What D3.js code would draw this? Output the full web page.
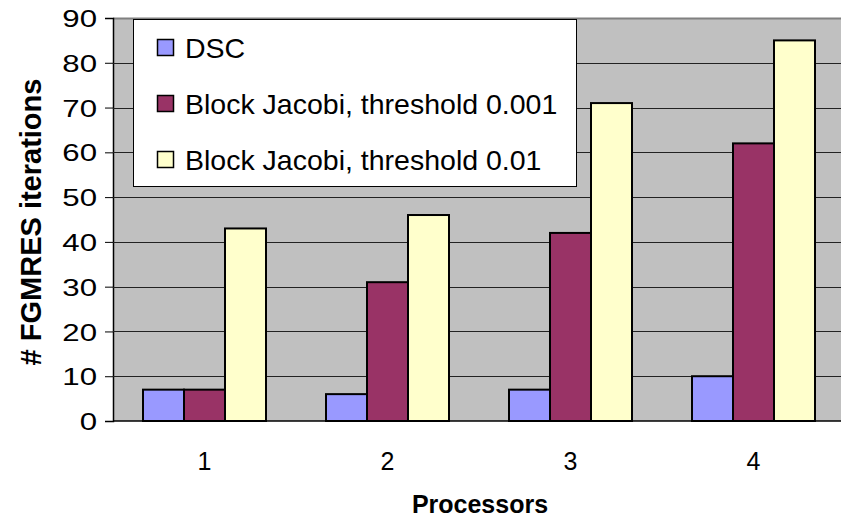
<!DOCTYPE html>
<html><head><meta charset="utf-8">
<script src="https://cdn.jsdelivr.net/npm/d3@7"></script>
<style>html,body{margin:0;padding:0;background:#fff;}svg{display:block;font-family:"Liberation Sans",Arial,sans-serif;}</style>
</head><body>
<svg id="c" width="841" height="519"></svg>
<script>
const categories = ["1","2","3","4"];
const seriesNames = ["DSC","Block Jacobi, threshold 0.001","Block Jacobi, threshold 0.01"];
const dsc = [7,6,7,10];
const bj001 = [7,31,42,62];
const bj01 = [43,46,71,85];
const yTicks = [0,10,20,30,40,50,60,70,80,90];
const colors = ["#9999FF","#993366","#FFFFCC"];
const series = [dsc,bj001,bj01];

const svg = d3.select("#c");
const L=113, T=18, R=845, B=421;
const x = d3.scaleBand().domain(categories).range([L,R]).paddingInner(0).paddingOuter(0);
const y = d3.scaleLinear().domain([0,90]).range([B,T]);
const barW = x.bandwidth()*41/183;
const gap = (x.bandwidth()-3*barW)/2;

svg.append("rect").attr("x",L).attr("y",T).attr("width",R-L).attr("height",B-T).attr("fill","#C0C0C0");
svg.append("line").attr("x1",L).attr("x2",R).attr("y1",T+0.5).attr("y2",T+0.5).attr("stroke","#808080").attr("stroke-width",2);

const yAxis = d3.axisLeft(y).tickValues(yTicks).tickSize(8).tickPadding(8);
const gy = svg.append("g").attr("transform",`translate(${L},0)`).call(yAxis);
gy.select(".domain").attr("stroke","#000").attr("stroke-width",1.5);
gy.selectAll(".tick line").attr("stroke","#000");
gy.selectAll("text").attr("font-size",24).attr("fill","#000").attr("font-family","Liberation Sans, Arial, sans-serif")
  .attr("x",0).attr("dy","0.36em").attr("transform","translate(-16,0) scale(1.3,1)");

svg.append("g").selectAll("line").data(yTicks.filter(v=>v>0&&v<90)).join("line")
  .attr("x1",L).attr("x2",R).attr("y1",d=>Math.round(y(d))+0.5).attr("y2",d=>Math.round(y(d))+0.5)
  .attr("stroke","#222").attr("stroke-width",1);

series.forEach((s,i)=>{
  svg.append("g").selectAll("rect").data(s).join("rect")
    .attr("x",(d,j)=>x(categories[j])+gap+i*barW)
    .attr("y",d=>y(d)).attr("width",barW).attr("height",d=>B-y(d))
    .attr("fill",colors[i]).attr("stroke","#000").attr("stroke-width",2);
});
svg.append("line").attr("x1",L).attr("x2",R).attr("y1",B).attr("y2",B).attr("stroke","#000").attr("stroke-width",1.5);

const xAxis = d3.axisBottom(x).tickSize(0).tickPadding(31);
const gx = svg.append("g").attr("transform",`translate(0,${B})`).call(xAxis);
gx.select(".domain").remove();
gx.selectAll("text").attr("font-size",25).attr("fill","#000").attr("font-family","Liberation Sans, Arial, sans-serif");

svg.append("text").attr("x",480).attr("y",513).attr("text-anchor","middle")
  .attr("font-size",25).attr("font-weight","bold").text("Processors");
svg.append("text").attr("transform","translate(41,222) rotate(-90)").attr("text-anchor","middle")
  .attr("font-size",29).attr("font-weight","bold").text("# FGMRES iterations");

const lg = svg.append("g");
lg.append("rect").attr("x",133.5).attr("y",19.5).attr("width",443).attr("height",167).attr("fill","#fff").attr("stroke","#000").attr("stroke-width",1);
seriesNames.forEach((n,i)=>{
  const cy = 48 + i*56;
  lg.append("rect").attr("x",157.5).attr("y",cy-8.5).attr("width",16).attr("height",16).attr("fill",colors[i]).attr("stroke","#000").attr("stroke-width",1.5);
  lg.append("text").attr("x",185).attr("y",cy+10).attr("font-size",28.5).text(n);
});
</script>
</body></html>
